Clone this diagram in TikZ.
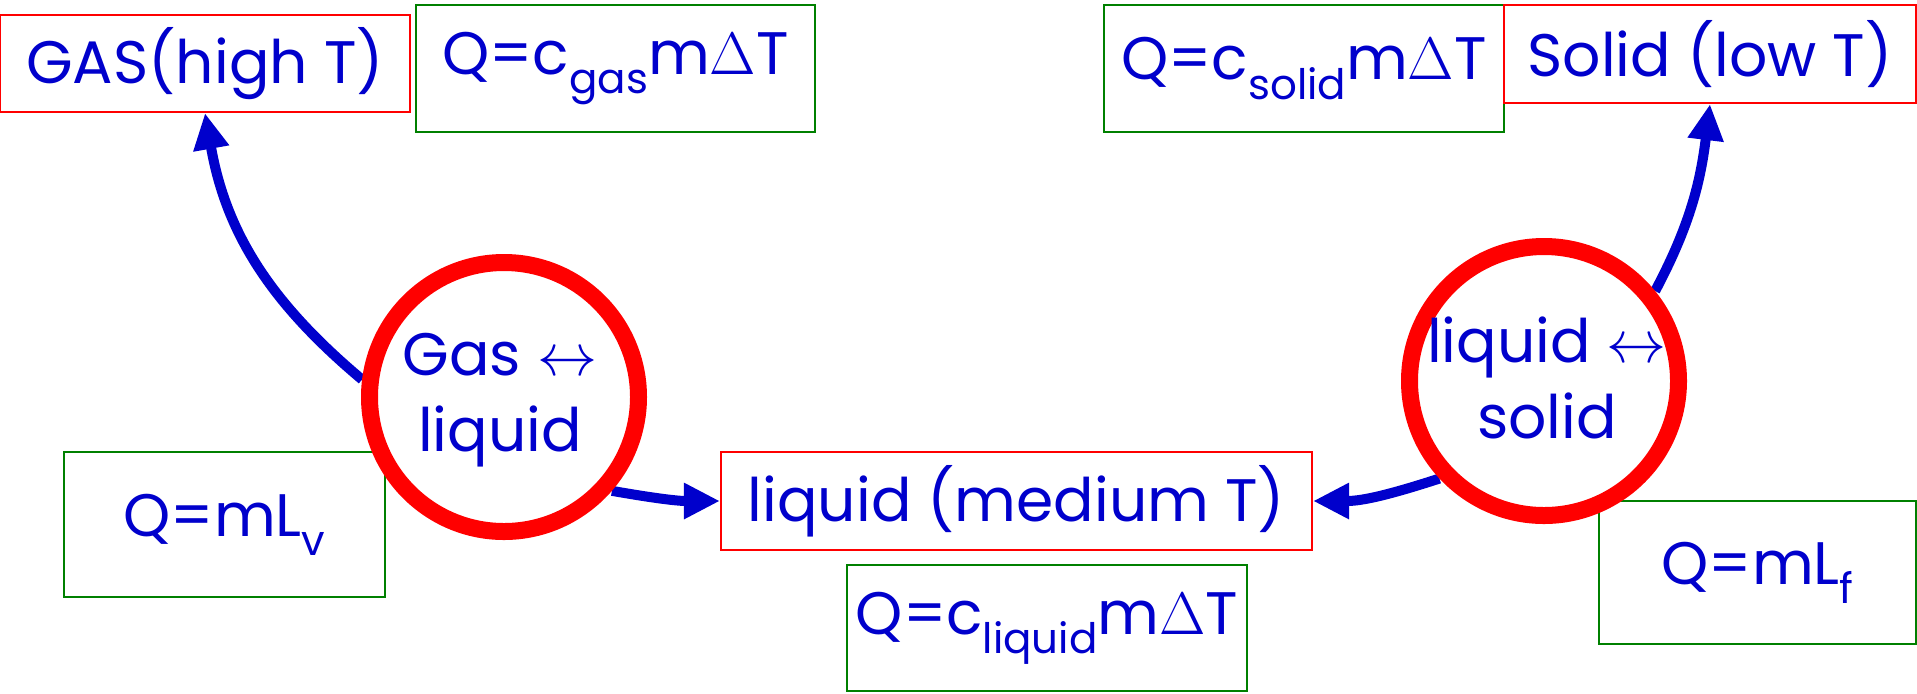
\documentclass[tikz,border=0pt]{standalone}
\usepackage{fix-cm}
\usepackage{fontspec}
\setmainfont{Poppins}
\usetikzlibrary{arrows.meta,backgrounds}
\definecolor{tblue}{RGB}{0,0,204}
\definecolor{tred}{RGB}{255,0,0}
\definecolor{tgreen}{RGB}{0,128,0}
\newcommand{\subt}[1]{\raisebox{-0.32em}{\fontsize{21}{21}\selectfont #1}}
\begin{document}
\begin{tikzpicture}[x=0.5pt,y=-0.5pt,
  every node/.style={text=tblue,font=\fontsize{30}{38}\selectfont,inner sep=0pt},
  redbox/.style={draw=tred,line width=1.1pt,rectangle},
  greenbox/.style={draw=tgreen,line width=1.1pt,rectangle},
  phase/.style={circle,draw=tred,line width=8.5pt,fill=white,minimum size=134.5pt},
  arr/.style={draw=tblue,line width=5pt,-{Triangle[length=18pt,width=17pt]}}]
\useasboundingbox (0,0) rectangle (1917,693);
% boxes
\node[redbox,minimum width=205pt,minimum height=48.5pt] (gasbox) at (205,63.5) {GAS(high T)};
\node[greenbox,minimum width=199.5pt,minimum height=63.5pt] (cgas) at (615.5,68.5) {Q=c\subt{gas}m$\Delta$T};
\node[greenbox,minimum width=200pt,minimum height=63.5pt] (csolid) at (1304,68.5) {Q=c\subt{solid}m$\Delta$T};
\node[redbox,minimum width=206pt,minimum height=49pt] (solidbox) at (1710,54) {Solid (low T)};
\node[redbox,minimum width=295.5pt,minimum height=49pt] (liqbox) at (1016.5,501) {liquid (medium T)};
\node[greenbox,minimum width=200pt,minimum height=63pt] (cliq) at (1047,628) {Q=c\subt{liquid}m$\Delta$T};
\node[greenbox,minimum width=160.5pt,minimum height=72.5pt] (mlv) at (224.5,524.5) {Q=mL\subt{v}};
\node[greenbox,minimum width=158.5pt,minimum height=71.5pt] (mlf) at (1757.5,572.5) {Q=mL\subt{f}};
% circles
\node[phase] (gc) at (504,397) {};
\node[phase] (lc) at (1544,381) {};
\node[align=center] (gct) at (500,400) {Gas $\leftrightarrow$\\liquid};
\node[align=center] (lct) at (1547,378) {liquid $\leftrightarrow$\\solid};
% arrows
\begin{scope}[on background layer]
\draw[arr] (gc.173) to[out=140,in=-80] (gasbox.south);
\draw[arr] (gc.-41) to[out=-10,in=180] (liqbox.west);
\draw[arr] (lc.39) to[out=62,in=-97] (solidbox.south);
\draw[arr] (lc.-137) to[out=198,in=0] (liqbox.east);
\end{scope}
\end{tikzpicture}
\end{document}
